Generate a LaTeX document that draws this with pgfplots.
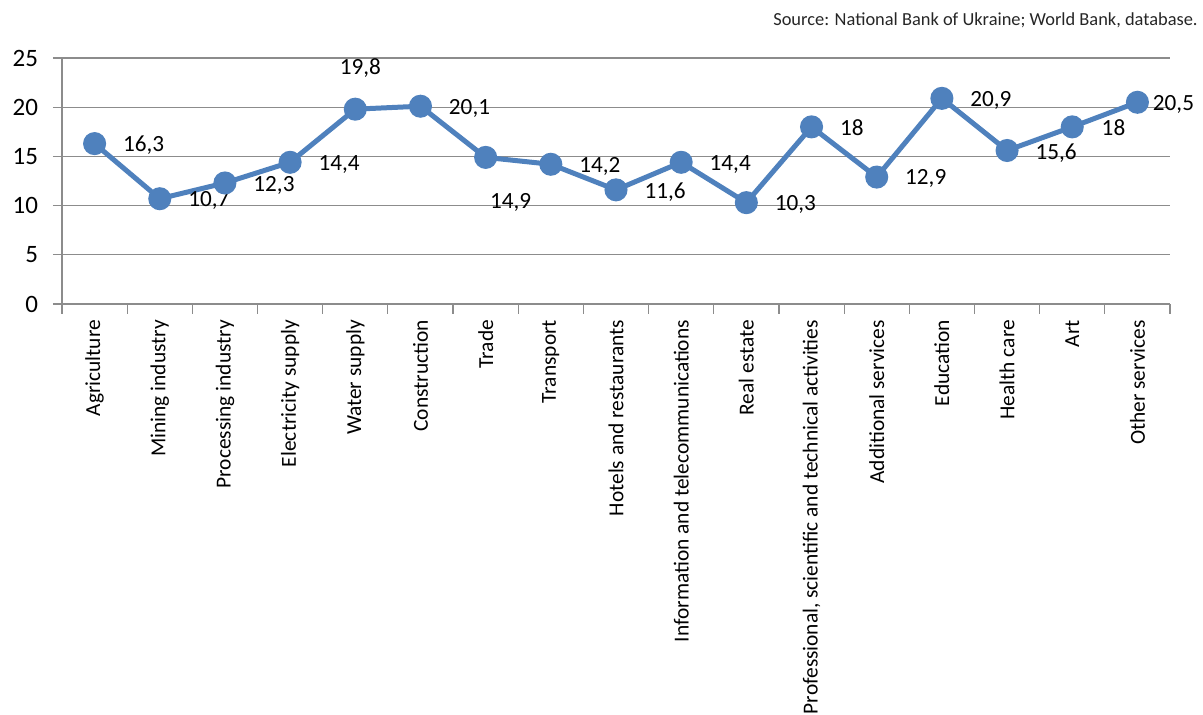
\documentclass[border=0pt]{standalone}
\usepackage{fontspec}
\setmainfont{Carlito}
\usepackage{pgfplots}
\usepackage{pgfplotstable}
\pgfplotsset{compat=1.18}

\definecolor{lineblue}{HTML}{4F81BD}
\definecolor{gridgray}{HTML}{8C8C8C}

% share by sector; dx/dy = label offset in pt
\pgfplotstableread{
x y lab dx dy
0 16.3 16,3 13 -1
1 10.7 10,7 13 -1
2 12.3 12,3 13 -1
3 14.4 14,4 13 -1
4 19.8 19,8 -9 20.5
5 20.1 20,1 13 -1
6 14.9 14,9 1 -22.5
7 14.2 14,2 13 -1
8 11.6 11,6 13 -1
9 14.4 14,4 13 -1
10 10.3 10,3 13 -1
11 18 18 13 -0.5
12 12.9 12,9 13 -0.5
13 20.9 20,9 13 -1
14 15.6 15,6 13 -1.5
15 18 18 13.5 -0.5
16 20.5 20,5 6.5 -1
}\sectors

\begin{document}
\begin{tikzpicture}
\useasboundingbox (-31pt,-205.5pt) rectangle (570.5pt,152pt);
\begin{axis}[
    at={(0,0)}, anchor=south west,
    scale only axis,
    width=554pt, height=123pt,
    clip=false,
    xmin=-0.5, xmax=16.5,
    ymin=0, ymax=25,
    ytick={0,5,...,25},
    xtick={0,...,16},
    xticklabels={Agriculture, Mining industry, Processing industry,
        Electricity supply, Water supply, Construction, Trade, Transport,
        Hotels and restaurants, Information and telecommunications,
        Real estate, {Professional, scientific and technical activities},
        Additional services, Education, Health care, Art, Other services},
    minor xtick={-0.5,0.5,...,16.5},
    axis x line=bottom, axis y line=left,
    axis line style={-, gridgray, line width=0.6pt},
    tick align=outside,
    major tick length=4.5pt, minor tick length=5pt,
    major x tick style={draw=none},
    minor x tick style={gridgray, line width=0.6pt},
    ytick style={gridgray, line width=0.6pt},
    ymajorgrids,
    grid style={gridgray, line width=0.6pt},
    /pgf/number format/assume math mode=true,
    yticklabel style={font=\fontsize{12.5}{14}\selectfont, xshift=-4pt},
    xticklabel style={rotate=90, anchor=east, font=\fontsize{10.7}{12}\selectfont},
]
\addplot [lineblue, line width=2.5pt, mark=*, mark size=4.5pt,
    point meta=explicit symbolic,
    visualization depends on={\thisrow{dx} \as \dx},
    visualization depends on={\thisrow{dy} \as \dy},
    nodes near coords,
    nodes near coords style={black, anchor=west, inner sep=0pt,
        xshift=\dx pt, yshift=\dy pt, font=\fontsize{11.6}{13}\selectfont}]
    table [x=x, y=y, meta=lab] {\sectors};
\end{axis}
\node [anchor=east, inner sep=0pt, font=\fontsize{9.2}{11}\selectfont, text=black!85]
    at (568pt,142pt) {Source: National Bank of Ukraine; World Bank, database.};
\end{tikzpicture}
\end{document}
